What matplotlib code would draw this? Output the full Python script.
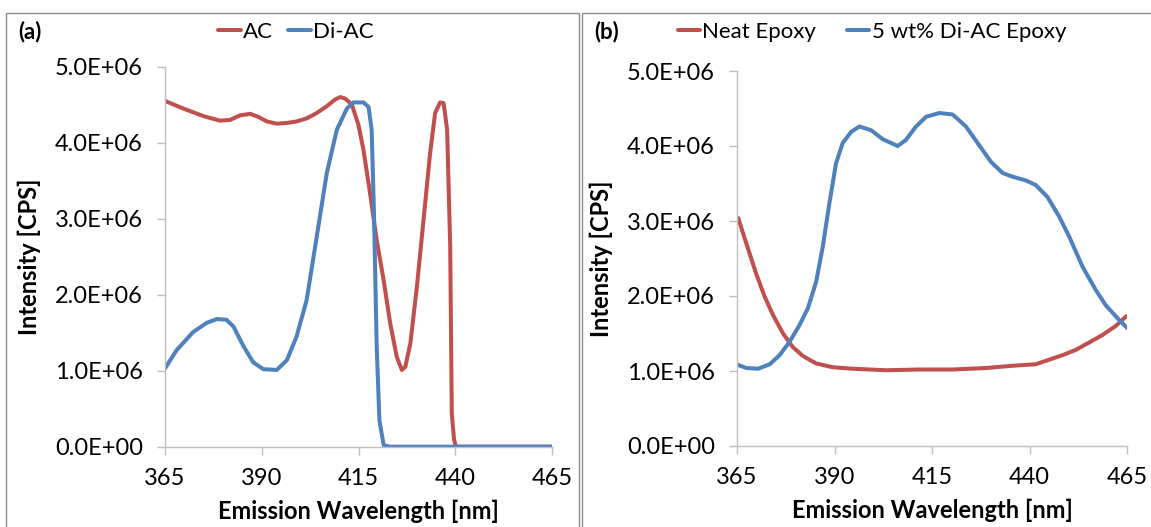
import matplotlib
matplotlib.use('Agg')
import matplotlib.pyplot as plt
from matplotlib.patches import Rectangle

plt.rcParams['font.family'] = ['Lato', 'DejaVu Sans']

RED = '#C0504D'
BLUE = '#4F81BD'

# ---- panel (a): AC / Di-AC, values in 1e6 CPS
ac_wl = [365, 369.7, 374.9, 379.2, 381.8, 384.4, 387, 389.1, 391.3, 393.9, 396.5, 399,
         401.6, 404.2, 406.8, 409, 410.3, 411.6, 413.3, 415, 416.3, 418, 419.7, 421.5,
         423.2, 424.9, 426.2, 427.1, 428.4, 430.1, 431.8, 433.5, 434.8, 436.1, 437,
         437.9, 438.7, 439.1, 439.7, 440.2, 465]
ac_val = [4.55, 4.45, 4.35, 4.29, 4.30, 4.36, 4.38, 4.34, 4.28, 4.25, 4.26, 4.28,
          4.32, 4.39, 4.48, 4.57, 4.60, 4.58, 4.50, 4.23, 3.90, 3.33, 2.72, 2.19,
          1.62, 1.18, 1.01, 1.05, 1.36, 2.11, 2.98, 3.86, 4.39, 4.53, 4.52,
          4.17, 2.63, 0.44, 0.09, 0.0, 0.0]
diac_wl = [365, 368, 372.3, 375.8, 378.4, 380.9, 382.7, 385.3, 387.8, 390.4, 393.9, 396.5,
           399, 401.6, 404.2, 406.8, 409.4, 412, 413.7, 416.3, 417.6, 418.4, 419, 419.7,
           420.4, 421.5, 423.2, 465]
diac_val = [1.03, 1.27, 1.51, 1.63, 1.68, 1.67, 1.58, 1.32, 1.11, 1.02, 1.01, 1.14,
            1.45, 1.93, 2.76, 3.60, 4.17, 4.45, 4.53, 4.53, 4.47, 4.17, 3.07, 1.32,
            0.35, 0.02, 0.0, 0.0]

# ---- panel (b): Neat Epoxy / 5 wt% Di-AC Epoxy
neat_wl = [365.3, 367.4, 369.9, 372.1, 374.2, 376.8, 379.3, 381.9, 385.3, 389.6, 394.7,
           403.2, 411.8, 420.3, 428.8, 435.7, 441.6, 445, 448.4, 451.8, 455.3, 458.7,
           462.1, 464.8]
neat_val = [3.04, 2.70, 2.30, 1.99, 1.75, 1.50, 1.32, 1.20, 1.10, 1.05, 1.03,
            1.01, 1.02, 1.02, 1.04, 1.07, 1.09, 1.15, 1.21, 1.28, 1.38, 1.48,
            1.60, 1.73]
epoxy_wl = [365.3, 367.4, 370.4, 373.4, 375.9, 378.5, 381, 383.2, 385.3, 387, 388.7,
            390.4, 392.1, 394.3, 396.4, 399.4, 402.4, 404.5, 406.2, 408.3, 410.9, 413.5,
            416.9, 420.3, 423.7, 427.1, 430.1, 433.1, 435.7, 439.1, 441.6, 444.6, 447.6,
            450.2, 453.6, 457, 459.5, 463, 465.1]
epoxy_val = [1.08, 1.04, 1.03, 1.09, 1.21, 1.39, 1.61, 1.84, 2.19, 2.66, 3.24,
             3.77, 4.04, 4.19, 4.26, 4.21, 4.09, 4.04, 4.00, 4.08, 4.26, 4.39,
             4.44, 4.42, 4.26, 4.01, 3.79, 3.64, 3.59, 3.54, 3.48, 3.32, 3.06,
             2.79, 2.39, 2.08, 1.88, 1.68, 1.57]

xticks = [365, 390, 415, 440, 465]
yticks = [0, 1e6, 2e6, 3e6, 4e6, 5e6]
ytick_labels = ['0.0E+00', '1.0E+06', '2.0E+06', '3.0E+06', '4.0E+06', '5.0E+06']

W, H = 1151, 527
fig = plt.figure(figsize=(W / 100, H / 100), dpi=100)

# panel borders
for x0, x1 in ((6, 579), (582, 1160)):
    fig.add_artist(Rectangle((x0 / W, -0.05), (x1 - x0) / W, (H - 13) / H + 0.05,
                             transform=fig.transFigure, fill=False,
                             edgecolor='#8C8C8C', linewidth=1.0))

ax_a = fig.add_axes([165 / W, (H - 446.7) / H, 387 / W, 380 / H])
ax_b = fig.add_axes([737 / W, (H - 446) / H, 390 / W, 375 / H])


def style(ax):
    ax.set_xlim(365, 465)
    ax.set_ylim(0, 5e6)
    ax.set_xticks(xticks)
    ax.set_yticks(yticks)
    ax.set_yticklabels(ytick_labels)
    for s in ('top', 'right'):
        ax.spines[s].set_visible(False)
    for s in ('left', 'bottom'):
        ax.spines[s].set_color('#BFBFBF')
        ax.spines[s].set_linewidth(1.0)
    ax.tick_params(direction='out', length=6, width=1.0, color='#BFBFBF',
                   labelsize=17, labelcolor='black')
    ax.tick_params(axis='x', pad=9)
    ax.tick_params(axis='y', pad=10)
    ax.set_xlabel('Emission Wavelength [nm]', fontsize=17, fontweight='bold', labelpad=8)
    ax.set_ylabel('Intensity [CPS]', fontsize=17, fontweight='bold', labelpad=10)


lw = 2.9
ax_a.plot(ac_wl, [v * 1e6 for v in ac_val], color=RED, lw=lw, label='AC',
          solid_capstyle='round', solid_joinstyle='round')
ax_a.plot(diac_wl, [v * 1e6 for v in diac_val], color=BLUE, lw=lw, label='Di-AC',
          solid_capstyle='round', solid_joinstyle='round')
style(ax_a)

ax_b.plot(neat_wl, [v * 1e6 for v in neat_val], color=RED, lw=lw, label='Neat Epoxy',
          solid_capstyle='round', solid_joinstyle='round')
ax_b.plot(epoxy_wl, [v * 1e6 for v in epoxy_val], color=BLUE, lw=lw,
          label='5 wt% Di-AC Epoxy', solid_capstyle='round', solid_joinstyle='round')
style(ax_b)

fig.text(18 / W, 1 - 32 / H, '(a)', fontsize=16, fontweight='bold', va='center')
fig.text(594 / W, 1 - 32 / H, '(b)', fontsize=16, fontweight='bold', va='center')

leg_kw = dict(ncol=2, frameon=False, fontsize=16, handlelength=1.0, handletextpad=0.1,
              borderaxespad=0, borderpad=0)
fig.legend(*ax_a.get_legend_handles_labels(), loc='center',
           bbox_to_anchor=(296 / W, 1 - 32 / H), columnspacing=0.7, **leg_kw)
fig.legend(*ax_b.get_legend_handles_labels(), loc='center',
           bbox_to_anchor=(872 / W, 1 - 32 / H), columnspacing=1.4, **leg_kw)

fig.savefig('out.png', dpi=100, facecolor='white')
